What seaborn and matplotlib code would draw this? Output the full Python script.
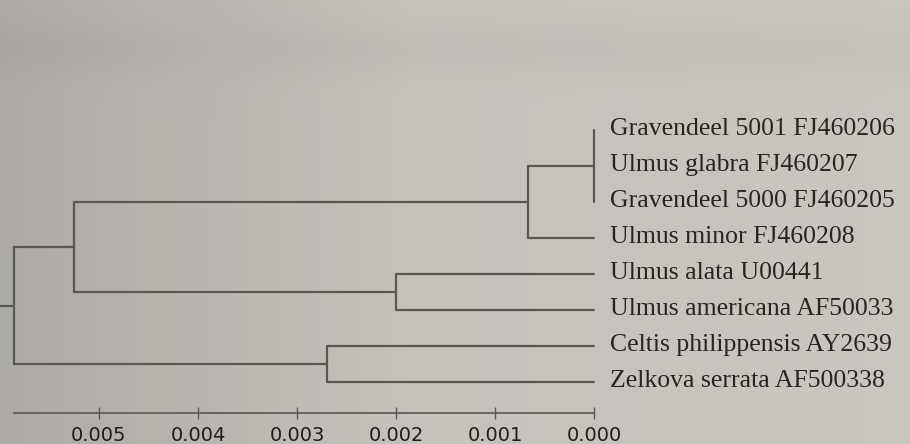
import numpy as np
import pandas as pd
import matplotlib
matplotlib.use("Agg")
import matplotlib.pyplot as plt
import seaborn as sns

# Leaf order, top to bottom
leaves = [
    "Gravendeel 5001 FJ460206",
    "Ulmus glabra FJ460207",
    "Gravendeel 5000 FJ460205",
    "Ulmus minor FJ460208",
    "Ulmus alata U00441",
    "Ulmus americana AF50033",
    "Celtis philippensis AY2639",
    "Zelkova serrata AF500338",
]

# Internal nodes: (name, children, distance)
node_names = ["A", "B", "C", "D", "E", "root"]
node_children = [
    [0, 1, 2],
    ["A", 3],
    [4, 5],
    ["B", "C"],
    [6, 7],
    ["D", "E"],
]
node_heights = [0.0, 0.00067, 0.0020, 0.00525, 0.0027, 0.00586]

scale_ticks = [0.005, 0.004, 0.003, 0.002, 0.001, 0.000]
scale_labels = ["0.005", "0.004", "0.003", "0.002", "0.001", "0.000"]

sns.set_theme(style="white")
plt.rcParams["font.family"] = ["DejaVu Sans"]

line_color = "#575a51"
text_color = "#262523"

# Compute node positions and branch segments
pos = {i: (0.0, float(i)) for i in range(len(leaves))}
segments = []
for name, kids, h in zip(node_names, node_children, node_heights):
    ys = [pos[k][1] for k in kids]
    for k in kids:
        kx, ky = pos[k]
        segments.append(((kx, ky), (h, ky)))
    segments.append(((h, min(ys)), (h, max(ys))))
    pos[name] = (h, float(np.mean(ys)))
rx, ry = pos["root"]
segments.append(((rx, ry), (rx + 0.0004, ry)))

rows = []
for sid, (p0, p1) in enumerate(segments):
    rows.append({"seg": sid, "dist": p0[0], "leaf": p0[1]})
    rows.append({"seg": sid, "dist": p1[0], "leaf": p1[1]})
df = pd.DataFrame(rows)

fig = plt.figure(figsize=(9.10, 4.44), dpi=100)

# paper background
bg = fig.add_axes([0, 0, 1, 1], zorder=0)
xs = np.linspace(0, 1, 300)
left = np.array([0.680, 0.670, 0.650])
mid = np.array([0.775, 0.757, 0.735])
right = np.array([0.797, 0.774, 0.752])
cols = np.where(xs[:, None] < 0.45,
                left + (mid - left) * (xs[:, None] / 0.45),
                mid + (right - mid) * ((xs[:, None] - 0.45) / 0.55))
vy = np.linspace(0, 1, 120)
shade = 1 - 0.025 * np.exp(-((vy - 0.11) / 0.06) ** 2)
img = cols[None, :, :] * shade[:, None, None]
bg.imshow(np.clip(img, 0, 1), aspect="auto", extent=[0, 1, 0, 1])
bg.set_axis_off()

ax = fig.add_axes([0, 0, 1, 1], zorder=1)
ax.patch.set_alpha(0)

sns.lineplot(data=df, x="dist", y="leaf", units="seg", estimator=None,
             sort=False, color=line_color, linewidth=1.6, ax=ax,
             legend=False)

px_per_unit = 99000.0
x_left = 594 / px_per_unit
ax.set_xlim(x_left, x_left - 910 / px_per_unit)
y0, dy = 130.0, 36.0
ax.set_ylim((444 - y0) / dy, -y0 / dy)

for i, name in enumerate(leaves):
    ax.annotate(name, xy=(0.0, i), xytext=(11.5, -3.8),
                textcoords="offset points", ha="left", va="baseline",
                fontsize=18.5, family="Liberation Serif", color=text_color)

for s in ["top", "left", "right"]:
    ax.spines[s].set_visible(False)
sp = ax.spines["bottom"]
sp.set_visible(True)
sp.set_position(("data", (413 - y0) / dy))
sp.set_bounds(0.0, rx)
sp.set_color(line_color)
sp.set_linewidth(1.2)
ax.set_xticks(scale_ticks)
ax.set_xticklabels(scale_labels)
ax.tick_params(axis="x", direction="inout", length=8, width=1.0,
               color=line_color, labelsize=14, labelcolor="#1e1d1c",
               pad=5, bottom=True)
ax.set_yticks([])
ax.set_xlabel("")
ax.set_ylabel("")

fig.savefig("out.png", dpi=100)
